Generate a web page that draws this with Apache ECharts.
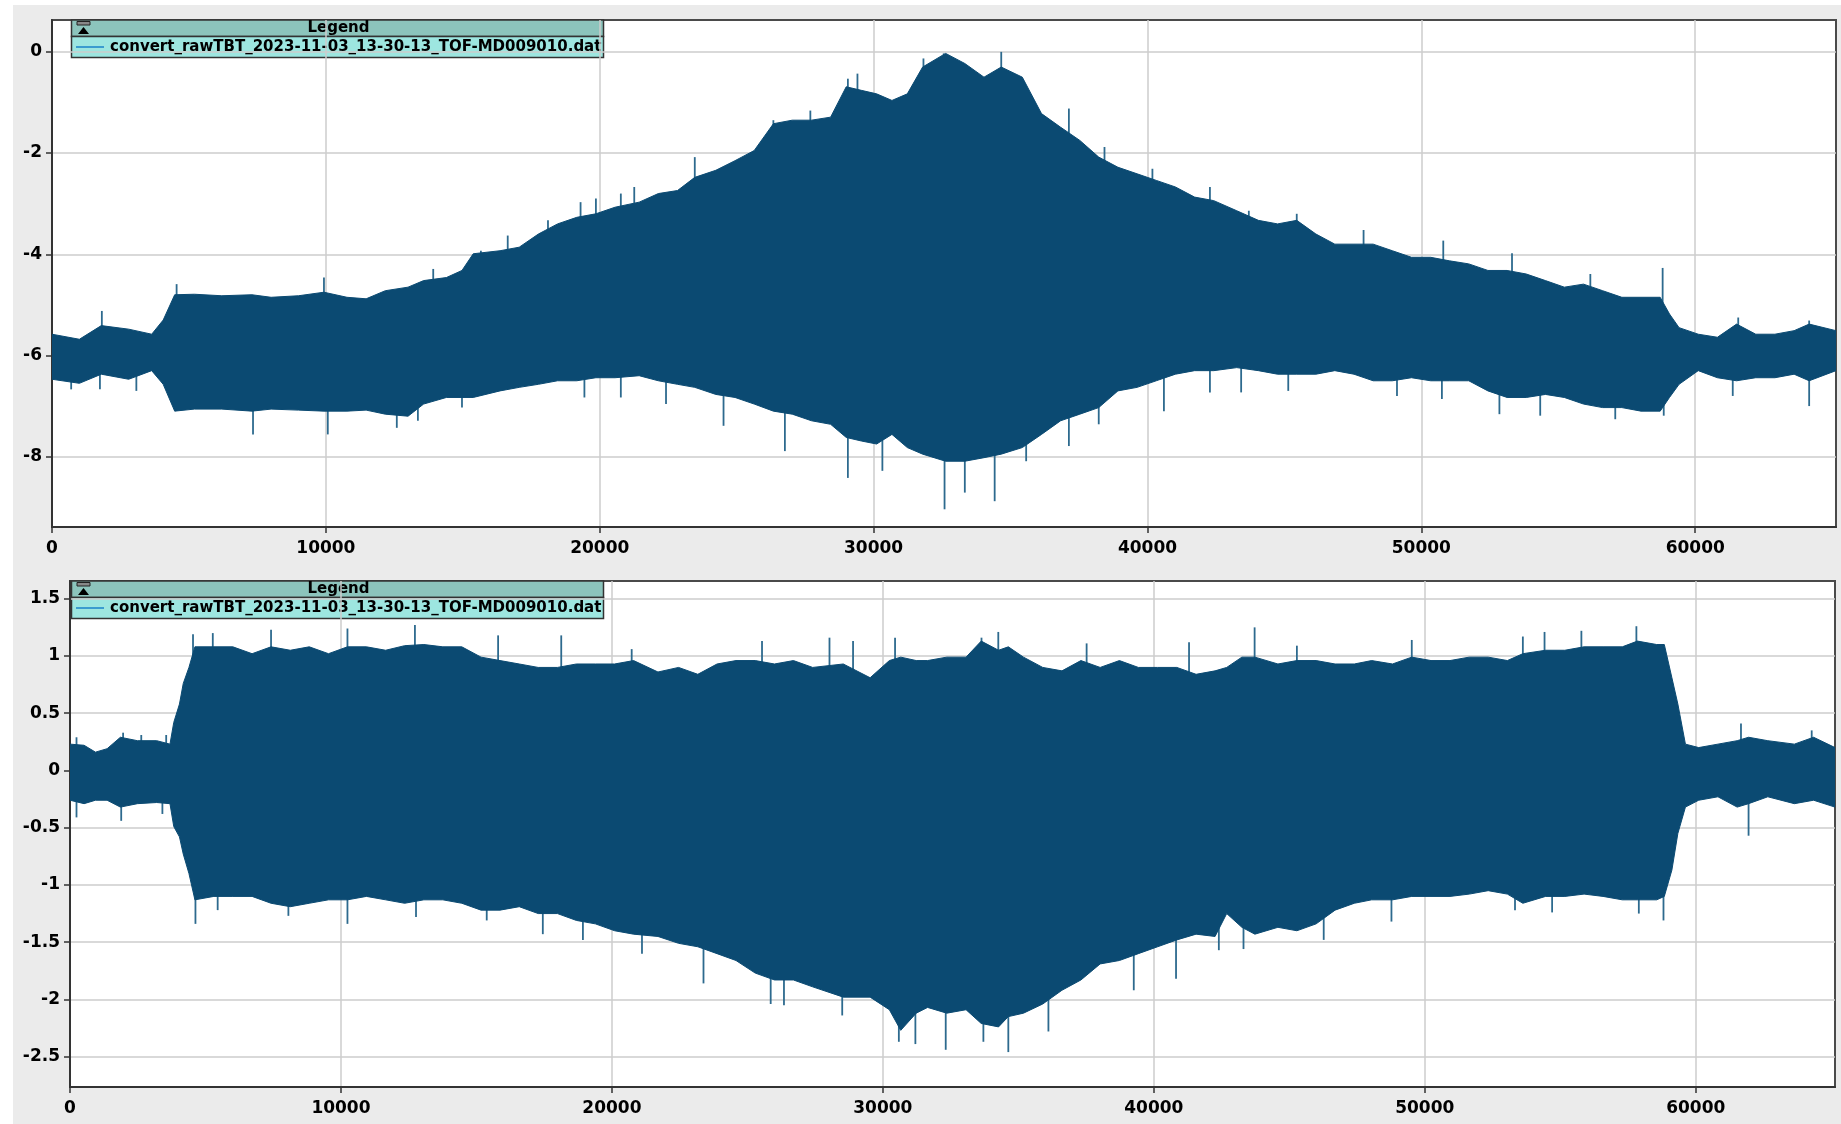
<!DOCTYPE html>
<html>
<head>
<meta charset="utf-8">
<script src="https://cdn.jsdelivr.net/npm/echarts@6/dist/echarts.min.js"></script>
<style>
html,body{margin:0;padding:0;background:#ffffff;}
#chart{width:1841px;height:1124px;}
</style>
</head>
<body>
<div id="chart"></div>
<script>
// ---------------- DATA ----------------
const legendLabel = 'convert_rawTBT_2023-11-03_13-30-13_TOF-MD009010.dat';
const xTicks = [0, 10000, 20000, 30000, 40000, 50000, 60000];
const topYTicks = [0, -2, -4, -6, -8];
const botYTicks = [1.5, 1, 0.5, 0, -0.5, -1, -1.5, -2, -2.5];

// Top panel: envelope of the signal (sample index, upper edge, lower edge)
const topX = [0,1000,1800,2800,3640,4060,4480,5200,6200,7300,8000,9000,9930,10770,11470,12170,13000,13570,14400,14970,15380,16360,17060,17760,18460,19160,19860,20560,21440,22140,22840,23470,24240,24940,25640,26340,27030,27730,28430,29000,29550,30110,30670,31230,31790,32630,33330,34030,34660,35430,36130,36830,37530,38220,38920,39620,40320,41020,41720,42420,43260,44050,44750,45450,46150,46840,47540,48240,48940,49640,50340,51030,51730,52430,53130,53830,54530,55220,55920,56620,57320,58020,58720,59060,59410,60110,60810,61510,62210,62910,63610,64160,65140];
const topUpper = [-5.58,-5.68,-5.41,-5.48,-5.58,-5.30,-4.80,-4.79,-4.82,-4.80,-4.85,-4.82,-4.75,-4.85,-4.88,-4.72,-4.65,-4.52,-4.46,-4.32,-3.99,-3.93,-3.86,-3.60,-3.40,-3.27,-3.20,-3.07,-2.97,-2.80,-2.74,-2.48,-2.34,-2.15,-1.95,-1.42,-1.35,-1.35,-1.29,-0.69,-0.76,-0.83,-0.96,-0.83,-0.30,-0.03,-0.23,-0.50,-0.30,-0.50,-1.22,-1.49,-1.75,-2.08,-2.28,-2.41,-2.54,-2.67,-2.87,-2.94,-3.14,-3.33,-3.40,-3.33,-3.60,-3.80,-3.80,-3.80,-3.93,-4.06,-4.06,-4.13,-4.19,-4.32,-4.32,-4.39,-4.52,-4.65,-4.59,-4.72,-4.85,-4.85,-4.85,-5.18,-5.45,-5.58,-5.64,-5.38,-5.58,-5.58,-5.51,-5.38,-5.51];
const topLower = [-6.47,-6.55,-6.37,-6.47,-6.30,-6.57,-7.10,-7.06,-7.06,-7.10,-7.06,-7.08,-7.10,-7.10,-7.08,-7.16,-7.20,-6.96,-6.83,-6.83,-6.83,-6.70,-6.63,-6.57,-6.50,-6.50,-6.44,-6.44,-6.40,-6.50,-6.57,-6.63,-6.77,-6.83,-6.96,-7.10,-7.16,-7.29,-7.36,-7.62,-7.69,-7.75,-7.56,-7.82,-7.95,-8.09,-8.09,-8.02,-7.95,-7.82,-7.56,-7.29,-7.16,-7.03,-6.70,-6.63,-6.50,-6.37,-6.30,-6.30,-6.24,-6.30,-6.37,-6.37,-6.37,-6.30,-6.37,-6.50,-6.50,-6.44,-6.50,-6.50,-6.50,-6.70,-6.83,-6.83,-6.77,-6.83,-6.96,-7.03,-7.03,-7.10,-7.10,-6.83,-6.57,-6.30,-6.44,-6.50,-6.44,-6.44,-6.37,-6.50,-6.30];
// Top panel: isolated spikes beyond the envelope [sample index, tip value]
const topSpikesUp = [[1820,-5.12],[4550,-4.59],[9930,-4.46],[13920,-4.29],[15660,-3.93],[16640,-3.63],[18110,-3.33],[19300,-2.97],[19860,-2.90],[20770,-2.80],[21260,-2.67],[23470,-2.08],[26340,-1.35],[27690,-1.16],[29060,-0.53],[29410,-0.43],[31820,-0.13],[32560,-0.03],[34660,0.0],[37130,-1.12],[38430,-1.88],[40180,-2.31],[42280,-2.67],[43700,-3.14],[45450,-3.20],[47890,-3.52],[50800,-3.73],[53310,-3.98],[56170,-4.39],[58810,-4.27],[61570,-5.25],[64160,-5.31]];
const topSpikesDown = [[700,-6.67],[1750,-6.67],[3080,-6.70],[7340,-7.56],[10070,-7.56],[12590,-7.43],[13360,-7.29],[14970,-7.03],[19440,-6.83],[20770,-6.83],[22420,-6.96],[24520,-7.39],[26760,-7.89],[29060,-8.42],[30320,-8.28],[32590,-9.04],[33330,-8.71],[34420,-8.88],[35570,-8.09],[37130,-7.79],[38220,-7.36],[40600,-7.10],[42280,-6.73],[43420,-6.73],[45140,-6.70],[49110,-6.80],[50750,-6.86],[52850,-7.16],[54340,-7.19],[57080,-7.26],[58850,-7.19],[61370,-6.80],[64160,-7.00]];

// Bottom panel: envelope of the signal
const botX = [0,520,940,1370,1860,2490,3200,3690,3830,4040,4180,4390,4610,5310,6010,6720,7420,8130,8830,9540,10240,10940,11650,12350,13060,13760,14460,15170,15870,16580,17280,17990,18690,19390,20100,20800,21700,22460,23170,23880,24580,25290,26000,26700,27410,28540,29530,30240,30660,31230,31650,32360,33070,33630,34270,34630,35190,35900,36610,37310,38020,38730,39430,40140,40850,41560,42260,42690,43250,43730,44580,45280,45990,46690,47400,48040,48810,49520,50230,50930,51640,52340,53050,53620,54460,55170,55880,56580,57290,57850,58560,58840,59120,59340,59620,60110,60820,61530,61950,62660,63640,64350,65140];
const botUpper = [0.23,0.22,0.16,0.19,0.29,0.26,0.26,0.23,0.42,0.58,0.76,0.90,1.08,1.08,1.08,1.02,1.08,1.05,1.08,1.02,1.08,1.08,1.05,1.09,1.10,1.08,1.08,0.99,0.96,0.93,0.90,0.90,0.93,0.93,0.93,0.96,0.86,0.90,0.84,0.93,0.96,0.96,0.93,0.96,0.90,0.93,0.81,0.96,0.99,0.96,0.96,0.99,0.99,1.13,1.05,1.08,0.99,0.90,0.87,0.96,0.90,0.96,0.90,0.90,0.90,0.84,0.87,0.90,0.99,0.99,0.93,0.96,0.96,0.93,0.93,0.96,0.93,0.99,0.96,0.96,0.99,0.99,0.96,1.02,1.05,1.05,1.08,1.08,1.08,1.13,1.10,1.10,0.81,0.58,0.23,0.20,0.23,0.26,0.29,0.26,0.23,0.29,0.20];
const botLower = [-0.26,-0.29,-0.26,-0.26,-0.32,-0.29,-0.28,-0.29,-0.49,-0.58,-0.73,-0.90,-1.13,-1.10,-1.10,-1.10,-1.16,-1.19,-1.16,-1.13,-1.13,-1.10,-1.13,-1.16,-1.13,-1.13,-1.16,-1.22,-1.22,-1.19,-1.25,-1.25,-1.31,-1.34,-1.40,-1.43,-1.45,-1.51,-1.54,-1.60,-1.66,-1.77,-1.83,-1.83,-1.89,-1.98,-1.98,-2.09,-2.27,-2.12,-2.07,-2.12,-2.09,-2.21,-2.24,-2.15,-2.12,-2.04,-1.92,-1.83,-1.69,-1.66,-1.60,-1.54,-1.48,-1.43,-1.45,-1.25,-1.37,-1.43,-1.37,-1.40,-1.34,-1.22,-1.16,-1.13,-1.13,-1.10,-1.10,-1.10,-1.08,-1.05,-1.08,-1.16,-1.10,-1.10,-1.08,-1.10,-1.13,-1.13,-1.13,-1.10,-0.87,-0.55,-0.32,-0.26,-0.23,-0.32,-0.29,-0.23,-0.29,-0.26,-0.32];
const botSpikesUp = [[240,0.29],[1960,0.33],[2630,0.31],[3550,0.31],[4540,1.19],[5270,1.20],[7420,1.23],[10240,1.24],[12730,1.27],[15800,1.18],[18130,1.18],[20730,1.06],[25540,1.13],[28030,1.16],[28900,1.13],[30450,1.16],[33640,1.16],[34260,1.21],[37520,1.11],[41300,1.12],[43720,1.25],[45280,1.09],[49520,1.14],[53620,1.17],[54420,1.21],[55780,1.22],[57810,1.26],[61670,0.41],[64280,0.35]];
const botSpikesDown = [[240,-0.41],[1890,-0.44],[3410,-0.38],[4630,-1.34],[5450,-1.22],[8060,-1.27],[10240,-1.34],[12770,-1.28],[15380,-1.31],[17450,-1.43],[18930,-1.48],[21110,-1.60],[23380,-1.86],[25860,-2.04],[26350,-2.05],[28500,-2.14],[30590,-2.37],[31200,-2.39],[32320,-2.44],[33710,-2.37],[34630,-2.46],[36110,-2.28],[39260,-1.92],[40820,-1.82],[42400,-1.57],[43310,-1.56],[46270,-1.48],[48770,-1.32],[53330,-1.22],[54700,-1.24],[57900,-1.25],[58810,-1.31],[61950,-0.57]];

// ---------------- STYLE ----------------
const SIG = '#0b4a72';
const SPIKE = '#2d6a8e';
const FONT = 'DejaVu Sans';

function envAt(xs, ys, x) {
  for (let i = 1; i < xs.length; i++) {
    if (x <= xs[i]) {
      const t = (x - xs[i - 1]) / (xs[i] - xs[i - 1]);
      return ys[i - 1] + t * (ys[i] - ys[i - 1]);
    }
  }
  return ys[ys.length - 1];
}

// Filled band between lower and upper envelope, drawn as one polygon
function bandSeries(idx, xs, up, lo) {
  const n = xs.length;
  return {
    type: 'custom', xAxisIndex: idx, yAxisIndex: idx, silent: true, clip: true, z: 3,
    data: xs.map((x, i) => [x, up[i], lo[i]]),
    encode: { x: 0, y: [1, 2] },
    renderItem: function (params, api) {
      if (params.dataIndexInside !== 0) return null;
      const pts = [];
      for (let j = 0; j < n; j++) pts.push(api.coord([api.value(0, j), api.value(1, j)]));
      for (let j = n - 1; j >= 0; j--) pts.push(api.coord([api.value(0, j), api.value(2, j)]));
      return { type: 'polygon', shape: { points: pts },
        style: { fill: SIG, stroke: SIG, lineWidth: 1 } };
    }
  };
}

function spikeSeries(idx, spikes, xs, env, dir) {
  return {
    type: 'custom', xAxisIndex: idx, yAxisIndex: idx, silent: true, clip: true, z: 2,
    data: spikes,
    encode: { x: 0, y: 1 },
    renderItem: function (params, api) {
      const x = api.value(0), tip = api.value(1);
      const base = envAt(xs, env, x);
      const p1 = api.coord([x, tip]);
      const p2 = api.coord([x, base]);
      return { type: 'line',
        shape: { x1: p1[0], y1: p1[1], x2: p2[0], y2: p2[1] + dir * 6 },
        style: { stroke: SPIKE, lineWidth: 1.8 } };
    }
  };
}

function legendGroup(top) {
  const L = 71.5, W = 532;
  return {
    type: 'group', z: 50, children: [
      { type: 'rect', shape: { x: L, y: top, width: W, height: 16.5 },
        style: { fill: '#8cc4bc', stroke: '#333', lineWidth: 1.5 } },
      { type: 'rect', shape: { x: L, y: top + 16.5, width: W, height: 21 },
        style: { fill: '#9de6e0', stroke: '#333', lineWidth: 1.5 } },
      { type: 'rect', shape: { x: 77, y: top + 1.5, width: 13, height: 3.5 },
        style: { fill: '#888', stroke: '#222', lineWidth: 1 } },
      { type: 'polygon', shape: { points: [[78, top + 14], [89, top + 14], [83.5, top + 7]] },
        style: { fill: '#000' } },
      { type: 'text', style: { x: L + W / 2 + 1, y: top + 8.5, text: 'Legend', fill: '#000',
        font: 'bold 15px "' + FONT + '"', align: 'center', verticalAlign: 'middle' } },
      { type: 'line', shape: { x1: 76, y1: top + 27, x2: 104, y2: top + 27 },
        style: { stroke: '#3b9ccf', lineWidth: 2 } },
      { type: 'text', style: { x: 110, y: top + 27.5, text: legendLabel, fill: '#000',
        font: 'bold 15px "' + FONT + '"', align: 'left', verticalAlign: 'middle' } }
    ]
  };
}

function xAxisCfg(idx) {
  return {
    type: 'value', gridIndex: idx, min: 0, max: 65140,
    axisLine: { show: true, onZero: false, lineStyle: { color: '#333', width: 2 } },
    axisTick: { show: true, length: 6, customValues: xTicks, lineStyle: { color: '#333', width: 1.5 } },
    axisLabel: { customValues: xTicks, margin: 13, color: '#000', fontFamily: FONT, fontWeight: 'bold', fontSize: 17,
      formatter: v => String(v) },
    splitLine: { show: true, lineStyle: { color: '#cccccc', width: 1.5 } }
  };
}
function yAxisCfg(idx, min, max, ticks) {
  return {
    type: 'value', gridIndex: idx, min: min, max: max,
    axisLine: { show: true, onZero: false, lineStyle: { color: '#333', width: 2 } },
    axisTick: { show: true, length: 6, customValues: ticks, lineStyle: { color: '#333', width: 1.5 } },
    axisLabel: { customValues: ticks, margin: 10, color: '#000', fontFamily: FONT, fontWeight: 'bold', fontSize: 17,
      formatter: v => String(v) },
    splitLine: { show: true, lineStyle: { color: '#cccccc', width: 1.5 } }
  };
}

const chart = echarts.init(document.getElementById('chart'), null, { renderer: 'canvas' });
chart.setOption({
  animation: false,
  backgroundColor: '#ffffff',
  grid: [
    { left: 52, top: 20, width: 1784, height: 507, show: true, backgroundColor: '#ffffff',
      borderColor: '#4a4a4a', borderWidth: 2, containLabel: false },
    { left: 70, top: 581, width: 1765, height: 506, show: true, backgroundColor: '#ffffff',
      borderColor: '#4a4a4a', borderWidth: 2, containLabel: false }
  ],
  xAxis: [xAxisCfg(0), xAxisCfg(1)],
  yAxis: [yAxisCfg(0, -9.39, 0.63, topYTicks), yAxisCfg(1, -2.765, 1.655, botYTicks)],
  graphic: [
    { type: 'rect', z: -100, silent: true, shape: { x: 13, y: 5, width: 1828, height: 1119 },
      style: { fill: '#ebebeb' } },
    legendGroup(20),
    legendGroup(581)
  ],
  series: [
    bandSeries(0, topX, topUpper, topLower),
    spikeSeries(0, topSpikesUp, topX, topUpper, 1),
    spikeSeries(0, topSpikesDown, topX, topLower, -1),
    bandSeries(1, botX, botUpper, botLower),
    spikeSeries(1, botSpikesUp, botX, botUpper, 1),
    spikeSeries(1, botSpikesDown, botX, botLower, -1)
  ]
});
</script>
</body>
</html>
